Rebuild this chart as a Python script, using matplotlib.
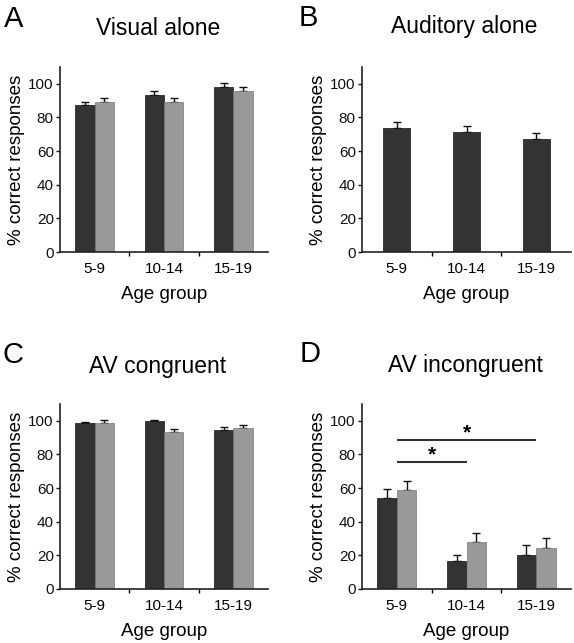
import matplotlib
matplotlib.use("Agg")
import matplotlib.pyplot as plt
import numpy as np

plt.rcParams['font.family'] = ['Liberation Sans', 'DejaVu Sans']

groups = ["5-9", "10-14", "15-19"]

visual_dark = [87.3, 93.4, 98.0]
visual_dark_err = [1.6, 2.4, 2.4]
visual_grey = [88.9, 88.9, 95.8]
visual_grey_err = [2.4, 2.4, 2.2]

auditory = [74.0, 71.6, 67.0]
auditory_err = [3.5, 3.5, 3.6]

cong_dark = [98.8, 99.6, 94.6]
cong_dark_err = [0.5, 0.6, 1.8]
cong_grey = [98.8, 93.4, 95.8]
cong_grey_err = [1.6, 2.0, 1.6]

incong_dark = [53.9, 16.5, 20.3]
incong_dark_err = [5.3, 3.8, 5.9]
incong_grey = [59.0, 28.0, 24.3]
incong_grey_err = [5.4, 5.4, 5.9]

sig_pairs = [(0, 2, 88.3, 93.0), (0, 1, 75.6, 79.8)]

titles = ["Visual alone", "Auditory alone", "AV congruent", "AV incongruent"]
letters = ["A", "B", "C", "D"]

W, H = 574, 643
fig = plt.figure(figsize=(W / 100, H / 100), dpi=100)

def px_axes(left, right, bottom, top):
    return fig.add_axes([left / W, 1 - bottom / H, (right - left) / W, (bottom - top) / H])

DARK = "#333333"
GREY = "#999999"

def style(ax):
    ax.set_xlim(-0.5, 2.5)
    ax.set_ylim(0, 110)
    ax.spines['top'].set_visible(False)
    ax.spines['right'].set_visible(False)
    for s in ['left', 'bottom']:
        ax.spines[s].set_linewidth(1.2)
        ax.spines[s].set_color('#222222')
    ax.set_yticks([0, 20, 40, 60, 80, 100])
    ax.tick_params(axis='y', length=3, width=1, labelsize=11, pad=1.5, colors='#111111')
    ax.set_xticks([0.5, 1.5])
    ax.set_xticklabels([])
    ax.set_xticks([0, 1, 2], minor=True)
    ax.set_xticklabels(groups, minor=True)
    ax.tick_params(axis='x', which='major', length=3, width=1)
    ax.tick_params(axis='x', which='minor', length=0, labelsize=11, pad=7)
    ax.set_ylabel("% correct responses", fontsize=13.5, labelpad=2.5)
    ax.set_xlabel("Age group", fontsize=13.5, labelpad=7.5)

def paired(ax, d, de, g, ge):
    x = np.arange(len(groups))
    w = 0.28
    ax.bar(x - w / 2, d, w, color=DARK, edgecolor='#111111', linewidth=0.5, zorder=2)
    ax.bar(x + w / 2, g, w, color=GREY, edgecolor='#777777', linewidth=0.5, zorder=2)
    ax.errorbar(x - w / 2, d, yerr=[np.zeros(3), de], fmt='none', ecolor='#111111',
                elinewidth=1, capsize=3, capthick=1, zorder=1)
    ax.errorbar(x + w / 2, g, yerr=[np.zeros(3), ge], fmt='none', ecolor='#111111',
                elinewidth=1, capsize=3, capthick=1, zorder=1)

axA = px_axes(60, 268, 252, 67)
paired(axA, visual_dark, visual_dark_err, visual_grey, visual_grey_err)
style(axA)

axB = px_axes(362, 571, 252, 67)
xb = np.arange(len(groups))
axB.bar(xb, auditory, 0.39, color=DARK, edgecolor='#111111', linewidth=0.5, zorder=2)
axB.errorbar(xb, auditory, yerr=[np.zeros(3), auditory_err], fmt='none', ecolor='#111111',
             elinewidth=1, capsize=3, capthick=1, zorder=1)
style(axB)

axC = px_axes(60, 268, 589, 404)
paired(axC, cong_dark, cong_dark_err, cong_grey, cong_grey_err)
style(axC)

axD = px_axes(362, 571, 589, 404)
paired(axD, incong_dark, incong_dark_err, incong_grey, incong_grey_err)
style(axD)
for x0, x1, yl, ys in sig_pairs:
    axD.plot([x0, x1], [yl, yl], color='#333333', lw=1.5, solid_capstyle='butt')
    axD.text((x0 + x1) / 2, ys, "*", ha='center', va='center', fontsize=15, fontweight='bold')

# titles and letters (baseline pixel positions)
title_pos = [(158, 35), (464, 33), (158, 373), (465, 372)]
letter_pos = [(4, 27), (299, 26), (3, 363), (300, 362)]
for t, (x, y) in zip(titles, title_pos):
    fig.text(x / W, 1 - y / H, t, ha='center', va='baseline', fontsize=16.5)
for l, (x, y) in zip(letters, letter_pos):
    fig.text(x / W, 1 - y / H, l, ha='left', va='baseline', fontsize=21)

fig.savefig("out.png", dpi=100)
